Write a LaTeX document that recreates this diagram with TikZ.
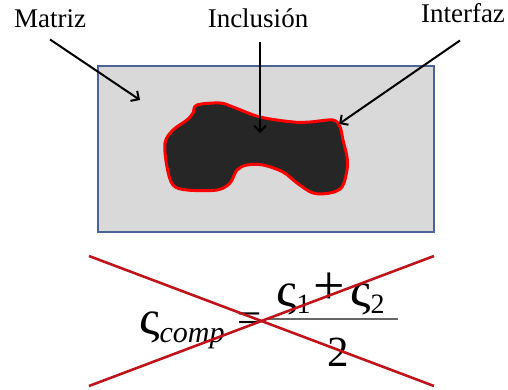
\documentclass[tikz,border=0pt]{standalone}
\usepackage{amsmath,amssymb}
\usepackage{fontspec}
\setmainfont{Liberation Serif}
\usepackage{tikz}
\usetikzlibrary{arrows.meta,calc}
\definecolor{cMat}{HTML}{D9D9D9}
\definecolor{cEdge}{HTML}{4A6496}
\definecolor{cInc}{HTML}{262626}
\definecolor{cRim}{HTML}{FF0000}
\definecolor{cCross}{HTML}{C0141C}
% final sigma, a little wider than the font's own
\newcommand{\vsg}{\scalebox{1.2}[1.12]{ς}}
% lowered index: drop, size, text
\newcommand{\lowidx}[3]{\raisebox{-#1}{\fontsize{#2}{#2}\selectfont #3}}
\tikzset{
  lbl/.style   ={font=\fontsize{27}{27}\selectfont,inner sep=1pt,anchor=base},
  fml/.style   ={font=\fontsize{43}{43}\selectfont,inner sep=0pt,anchor=base},
  ptr/.style   ={-{Straight Barb[length=6pt,width=12pt]},line width=2pt,black},
  matrix box/.style={draw=cEdge,fill=cMat,line width=2pt},
  grain/.style ={draw=cRim,fill=cInc,line width=3pt,line join=round},
  cross/.style ={draw=cCross,line width=2.6pt},
  fbar/.style  ={draw=black!60,line width=1.2pt},
}

\begin{document}
\begin{tikzpicture}[x=1pt,y=-1pt]
\useasboundingbox (0,0) rectangle (508,390);

% ---- matrix and inclusion ------------------------------------------------
\node[matrix box,minimum width=336pt,minimum height=166pt,inner sep=0pt,
      anchor=north west] (matriz box) at (97,65) {};
\draw[grain] plot[smooth cycle,tension=0.55] coordinates {
  (197,105) (220,103) (233,107) (260,117) (293,122) (310,122) (333,120)
  (340,127) (343,140) (347,157) (347,170) (342,187) (330,193) (313,193)
  (297,183) (283,172) (263,165) (247,165) (237,170) (230,183) (217,190)
  (187,190) (173,185) (167,167) (165,143) (173,130) (187,120) (193,113)};

% ---- labels --------------------------------------------------------------
\node[lbl] (matriz) at (50,28) {Matriz};
\node[lbl] (inclusion) at (258,28) {Inclusión};
\node[lbl] (interfaz) at (463,23) {Interfaz};

\coordinate (tipM) at (140,100);
\coordinate (tipI) at (260,133);
\coordinate (tipF) at (339,124);
\draw[ptr] ([yshift=-10pt]matriz.south) -- (tipM);
\draw[ptr] ([yshift=-13pt,xshift=2pt]inclusion.south) -- (tipI);
\draw[ptr] ([yshift=-16pt,xshift=-3pt]interfaz.south) -- (tipF);

% ---- crossed-out rule of mixtures ----------------------------------------
\node[fml,anchor=base west] (lhs) at (139,334)
  {\vsg\lowidx{8pt}{30}{\itshape comp}};
\node[fml] (eq) at (250,332) {=};
\node[fml,anchor=base west] (num) at (276,306)
  {\vsg\lowidx{7pt}{28}{1}\hspace{3pt}\raisebox{2pt}{\scalebox{1.3}{+}}%
   \hspace{5pt}\vsg\lowidx{7pt}{28}{2}};
\node[fml] (den) at (338,366) {2};
\coordinate (barL) at (267,319);
\coordinate (barR) at (398,319);
\draw[fbar] (barL) -- (barR);

\coordinate (xa) at (89,256);
\coordinate (xb) at (434,386);
\coordinate (xc) at (89,386);
\coordinate (xd) at (434,256);
\draw[cross] (xa) -- (xb);
\draw[cross] (xc) -- (xd);
\end{tikzpicture}
\end{document}
